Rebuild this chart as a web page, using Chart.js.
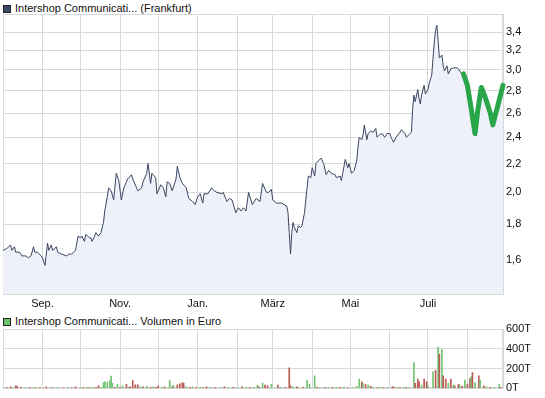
<!DOCTYPE html>
<html>
<head>
<meta charset="utf-8">
<script src="https://cdn.jsdelivr.net/npm/chart.js@4/dist/chart.umd.min.js"></script>
<style>
  body { margin: 0; background: #fff; width: 545px; height: 398px; position: relative; overflow: hidden; }
  canvas { position: absolute; left: 0; }
  .lg { position: absolute; left: 3px; font: 11px 'Liberation Sans', Arial, sans-serif; color: #111; line-height: 12px; white-space: nowrap; }
  .lg .box { display: inline-block; width: 6px; height: 6px; border: 1px solid #222; margin-right: 4px; vertical-align: -1px; }
</style>
</head>
<body>
<div class="lg" style="top:2px"><span class="box" style="background:#3d4868"></span>Intershop Communicati... (Frankfurt)</div>
<canvas id="price" width="545" height="312" style="top:0"></canvas>
<div class="lg" style="top:315px"><span class="box" style="background:#6cc46c"></span>Intershop Communicati... Volumen in Euro</div>
<canvas id="volume" width="545" height="86" style="top:312px"></canvas>
<script>
// days counted from 1 Aug
const monthDays = [0, 31, 61, 92, 122, 153, 184, 212, 243, 273, 304, 334, 365];
const monthLabels = ['', 'Sep.', '', 'Nov.', '', 'Jan.', '', 'März', '', 'Mai', '', 'Juli', ''];
const priceTicks = [1.6, 1.8, 2.0, 2.2, 2.4, 2.6, 2.8, 3.0, 3.2, 3.4];
const volumeTicks = [0, 200, 400, 600];

const priceDays = [0,3,6,7,9,10,13,15,18,20,22,24,25,27,30,31,33,35,36,38,39,42,43,46,50,52,54,57,59,61,62,64,65,68,69,70,72,73,75,77,79,80,82,83,85,87,89,91,93,95,98,101,102,105,106,109,110,113,114,116,117,120,121,124,126,128,129,131,133,136,137,139,141,144,146,149,151,153,155,157,158,161,164,166,168,172,173,176,178,180,183,185,187,189,191,193,196,199,202,204,207,209,211,212,215,219,223,224,225,226,227,228,229,231,232,234,235,237,239,240,242,243,245,246,248,250,252,254,256,258,261,262,265,266,267,269,271,272,274,276,278,279,280,282,283,284,286,287,289,291,293,294,296,298,300,302,304,305,307,309,312,313,316,317,320,321,322,323,324,326,327,328,329,331,332,334,335,337,338,339,340,341,342,343,345,346,347,349,350,352,354,357,358,360,361,364,367,370,372,374,377,380,383,385,388,391,393];
const prices = [1.65,1.66,1.68,1.65,1.67,1.64,1.64,1.62,1.62,1.61,1.62,1.67,1.64,1.64,1.62,1.61,1.57,1.69,1.65,1.68,1.65,1.67,1.64,1.63,1.62,1.63,1.63,1.65,1.73,1.72,1.73,1.70,1.74,1.72,1.72,1.70,1.73,1.75,1.73,1.75,1.81,1.88,1.97,2.03,2.01,1.95,2.13,2.08,1.95,2.03,2.09,2.12,2.09,2.03,2.01,2.03,2.07,2.13,2.20,2.06,2.13,2.10,1.99,2.05,2.03,1.97,2.07,2.06,2.01,2.09,2.18,2.10,2.06,2.03,1.96,1.94,1.92,1.97,1.99,1.93,1.99,1.99,2.03,2.01,2.00,1.99,2.00,1.94,1.96,1.95,1.87,1.90,1.88,1.90,1.88,2.00,1.92,1.96,1.94,2.06,2.00,2.00,2.02,1.95,1.93,1.93,1.91,1.87,1.75,1.63,1.75,1.81,1.78,1.75,1.79,1.78,1.79,1.87,2.03,2.11,2.10,2.17,2.11,2.20,2.22,2.24,2.20,2.12,2.15,2.13,2.12,2.10,2.11,2.08,2.13,2.23,2.17,2.20,2.13,2.15,2.22,2.32,2.40,2.38,2.42,2.50,2.38,2.43,2.45,2.44,2.47,2.40,2.42,2.43,2.40,2.43,2.43,2.40,2.36,2.40,2.44,2.46,2.43,2.40,2.43,2.44,2.64,2.76,2.70,2.81,2.73,2.68,2.76,2.85,2.77,2.81,2.87,2.95,3.12,3.29,3.42,3.48,3.31,3.12,3.15,3.04,2.99,3.04,2.96,3.01,3.02,3.02,3.01,2.97,2.95,2.85,2.67,2.47,2.41,2.62,2.83,2.70,2.56,2.50,2.64,2.78,2.85];

// hand-drawn green "W"
const wDays = [362, 365, 368, 371, 373, 376, 379, 383, 385, 389, 393];
const wPrices = [2.96, 2.85, 2.64, 2.43, 2.61, 2.83, 2.74, 2.60, 2.50, 2.67, 2.85];

// volume in thousand euro, 1 = up day, 0 = down day
const volDays = [0,3,6,8,10,11,14,17,21,24,26,29,32,34,37,39,43,47,51,54,57,61,63,66,68,71,73,75,77,79,80,82,84,85,86,88,90,92,94,97,99,100,102,104,106,108,110,113,116,118,120,122,125,127,131,133,134,137,139,141,142,144,147,149,152,155,157,160,163,167,171,174,177,181,184,188,191,194,197,200,201,204,206,208,211,216,218,222,225,226,228,231,232,236,239,241,245,247,249,253,256,259,262,265,268,271,275,278,280,282,283,285,287,289,291,294,296,299,302,306,307,310,312,315,317,319,323,324,326,327,329,331,333,334,338,340,342,343,345,346,348,350,352,354,355,358,359,361,363,365,367,368,369,371,374,375,378,380,383,386,390,391];
const volumes = [5,8,15,5,25,20,10,5,10,6,10,8,6,15,5,8,10,5,10,5,15,5,8,10,8,12,8,25,10,60,70,65,80,125,50,10,40,10,25,40,10,15,80,35,35,15,15,20,10,15,10,25,10,15,80,15,30,35,45,60,50,15,10,15,10,12,8,15,10,12,8,15,10,12,8,15,10,12,10,30,15,55,33,27,40,33,10,10,207,27,15,15,10,10,83,40,127,10,8,12,8,10,12,10,15,5,8,20,93,67,50,40,33,20,12,8,10,8,10,15,15,10,8,8,10,8,260,50,93,67,33,93,67,27,167,183,417,350,393,127,93,50,93,33,27,40,33,20,83,40,100,117,160,60,127,83,27,15,12,10,40,10];
const volUp = [1,0,0,1,0,0,0,1,0,1,1,0,1,0,1,0,1,0,1,0,0,1,0,1,0,1,0,0,1,1,1,1,1,1,1,0,1,0,1,0,1,0,0,0,0,1,0,1,0,1,0,0,1,0,1,0,1,0,0,0,0,1,0,1,0,1,0,0,1,0,1,0,1,0,1,0,1,0,1,1,0,1,0,0,1,0,1,0,0,0,1,0,1,0,1,1,1,0,1,0,1,0,1,0,1,0,1,1,1,0,1,0,1,0,1,0,1,0,1,0,0,1,0,1,0,1,1,0,0,0,1,0,0,1,1,0,1,0,1,0,0,1,0,1,0,0,1,0,1,0,0,1,0,1,0,1,0,1,0,1,1,0];

const gridColor = '#d9d9d9';
const tickFont = { family: "'Liberation Sans Narrow', 'Liberation Sans', Arial, sans-serif", size: 11 };

const frame = {
  id: 'frame',
  beforeDatasetsDraw(chart) {
    const a = chart.chartArea, c = chart.ctx;
    c.save();
    c.strokeStyle = gridColor;
    c.lineWidth = 1;
    c.strokeRect(Math.round(a.left) + 0.5, Math.round(a.top) + 0.5, Math.round(a.right - a.left) - 1, Math.round(a.bottom - a.top) - 1);
    c.restore();
  }
};

function monthAxis(showLabels, height) {
  return {
    type: 'linear', min: 0, max: 393, offset: false,
    afterBuildTicks: s => { s.ticks = monthDays.map(v => ({ value: v })); },
    afterFit: s => { s.height = height; },
    ticks: { display: showLabels, autoSkip: false, maxRotation: 0, padding: 3, color: '#111', font: tickFont,
             callback: (v, i) => monthLabels[i] },
    grid: { color: gridColor, drawTicks: false, offset: false },
    border: { color: gridColor }
  };
}

new Chart(document.getElementById('price'), {
  type: 'line',
  data: {
    datasets: [
      { data: wDays.map((d, i) => ({ x: d, y: wPrices[i] })), borderColor: '#2aa64a', borderWidth: 5,
        pointRadius: 0, fill: false, borderCapStyle: 'round', borderJoinStyle: 'round', clip: false, order: 0 },
      { data: priceDays.map((d, i) => ({ x: d, y: prices[i] })), borderColor: '#3a4560', borderWidth: 1,
        pointRadius: 0, fill: 'start', backgroundColor: '#eef1fa', order: 1 }
    ]
  },
  options: {
    responsive: false, animation: false, events: [],
    layout: { padding: { left: 3, top: 14, right: 0, bottom: 0 } },
    plugins: { legend: { display: false }, tooltip: { enabled: false } },
    scales: {
      x: monthAxis(true, 18),
      y: {
        type: 'logarithmic', position: 'right', min: 1.428, max: 3.61,
        afterBuildTicks: s => { s.ticks = priceTicks.map(v => ({ value: v })); },
        afterFit: s => { s.width = 42; },
        ticks: { padding: 3, color: '#111', font: tickFont, callback: v => v.toFixed(1).replace('.', ',') },
        grid: { color: gridColor, drawTicks: false },
        border: { color: gridColor }
      }
    }
  },
  plugins: [frame]
});

new Chart(document.getElementById('volume'), {
  type: 'bar',
  data: {
    datasets: [{
      data: volDays.map((d, i) => ({ x: d, y: volumes[i] })),
      backgroundColor: volUp.map(u => u ? '#72c472' : '#bb5a55'),
      barThickness: 1
    }]
  },
  options: {
    responsive: false, animation: false, events: [],
    layout: { padding: { left: 3, top: 17, right: 0, bottom: 0 } },
    plugins: { legend: { display: false }, tooltip: { enabled: false } },
    scales: {
      x: monthAxis(false, 9),
      y: {
        position: 'right', min: 0, max: 600,
        afterBuildTicks: s => { s.ticks = volumeTicks.map(v => ({ value: v })); },
        afterFit: s => { s.width = 42; },
        ticks: { padding: 3, color: '#111', font: tickFont, callback: v => v + 'T' },
        grid: { color: gridColor, drawTicks: false },
        border: { color: gridColor }
      }
    }
  },
  plugins: [frame]
});
</script>
</body>
</html>
